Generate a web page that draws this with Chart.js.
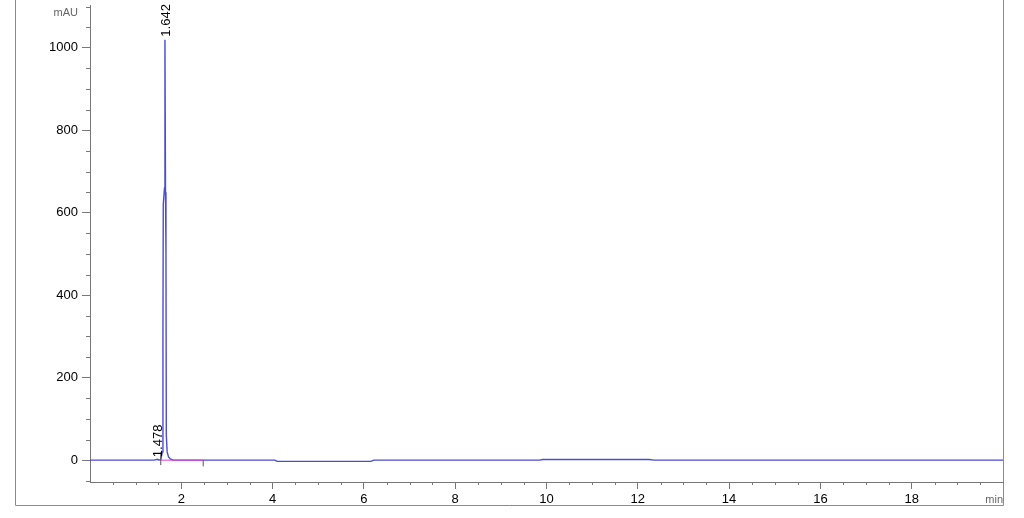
<!DOCTYPE html>
<html>
<head>
<meta charset="utf-8">
<script src="https://cdn.jsdelivr.net/npm/chart.js@4.4.0/dist/chart.umd.min.js"></script>
<style>
html,body{margin:0;padding:0;background:#fff;}
#wrap{position:absolute;left:0;top:0;width:1024px;height:518px;}
</style>
</head>
<body>
<div id="wrap"><canvas id="c" width="1024" height="518"></canvas></div>
<script>
// Chromatogram signal (time in min, absorbance in mAU)
const times = [0, 1.0, 1.40, 1.478, 1.50, 1.55, 1.585, 1.598, 1.605, 1.632, 1.642, 1.654, 1.664, 1.672, 1.69, 1.72, 1.76, 1.82, 2.5, 4.05, 4.10, 6.15, 6.22, 9.85, 9.92, 12.25, 12.35, 20];
const signal = [0, 0, 0, 2, 0.5, 1, 20, 300, 620, 660, 1020, 650, 500, 60, 20, 8, 3, 0, 0, 0, -3, -3, 0, 0, 1.5, 1.5, 0, 0];
// Integration baseline (magenta)
const baseTimes = [1.55, 2.48];
const baseValues = [0, 0];
// Peak retention time labels
const peakTimes = [1.478, 1.642];
const peakHeights = [0, 1020];
const peakLabels = ["1.478", "1.642"];
// Integration markers
const markTimes = [1.55, 2.48];
const markLow = [-12, -15];
const markHigh = [19, 0];
// Axis ticks
const xMajor = [2, 4, 6, 8, 10, 12, 14, 16, 18];
const yMajor = [0, 200, 400, 600, 800, 1000];

const lineData = times.map((t, i) => ({x: t, y: signal[i]}));
const baseData = baseTimes.map((t, i) => ({x: t, y: baseValues[i]}));
const markSets = markTimes.map((t, i) => ({
  data: [{x: t, y: markLow[i]}, {x: t, y: markHigh[i]}],
  borderColor: '#555', borderWidth: 1, pointRadius: 0, fill: false
}));

const decor = {
  id: 'decor',
  beforeDraw(chart) {
    const ctx = chart.ctx;
    ctx.save();
    ctx.strokeStyle = '#8a8a8a';
    ctx.lineWidth = 1;
    ctx.beginPath();
    ctx.moveTo(15.5, -5);
    ctx.lineTo(15.5, 505.5);
    ctx.lineTo(1003.5, 505.5);
    ctx.lineTo(1003.5, -5);
    ctx.stroke();
    ctx.restore();
  },
  afterDraw(chart) {
    const ctx = chart.ctx;
    const xs = chart.scales.x, ys = chart.scales.y;
    ctx.save();
    ctx.strokeStyle = '#777';
    ctx.lineWidth = 1;
    ctx.beginPath();
    for (let v = -50; v <= 1100; v += 50) {
      if (v % 200 === 0) continue;
      const p = Math.round(ys.getPixelForValue(v)) + 0.5;
      ctx.moveTo(xs.left - 4, p); ctx.lineTo(xs.left, p);
    }
    for (let v = 0.5; v < 20; v += 0.5) {
      if (Math.abs(v % 2) < 1e-9) continue;
      const p = Math.round(xs.getPixelForValue(v)) + 0.5;
      ctx.moveTo(p, ys.bottom); ctx.lineTo(p, ys.bottom + 3);
    }
    ctx.stroke();
    // axis units
    ctx.fillStyle = '#666';
    ctx.font = '11px "Liberation Sans", Arial, sans-serif';
    ctx.textAlign = 'right';
    ctx.textBaseline = 'alphabetic';
    ctx.fillText('mAU', 78, 16);
    ctx.fillText('min', 1003, 503);
    // peak labels
    ctx.fillStyle = '#000';
    ctx.font = '13px "Liberation Sans", Arial, sans-serif';
    ctx.textAlign = 'left';
    ctx.textBaseline = 'middle';
    peakTimes.forEach((t, i) => {
      const px = xs.getPixelForValue(t) + 1;
      const py = ys.getPixelForValue(peakHeights[i]) - 3;
      ctx.save();
      ctx.translate(px, py);
      ctx.rotate(-Math.PI / 2);
      ctx.fillText(peakLabels[i], 0, 0);
      ctx.restore();
    });
    ctx.restore();
  }
};

new Chart(document.getElementById('c'), {
  type: 'line',
  data: {
    datasets: [
      {data: baseData, borderColor: '#e040d0', borderWidth: 1, pointRadius: 0, fill: false},
      ...markSets,
      {data: lineData, borderColor: '#4b4bd2', borderWidth: 1.4, pointRadius: 0, fill: false, tension: 0}
    ]
  },
  options: {
    responsive: false,
    animation: false,
    devicePixelRatio: 1,
    layout: {padding: {left: 0, right: 21, top: 5, bottom: 0}},
    plugins: {legend: {display: false}, tooltip: {enabled: false}},
    scales: {
      x: {
        type: 'linear', min: 0, max: 20,
        afterBuildTicks: s => { s.ticks = xMajor.map(v => ({value: v})); },
        afterFit: s => { s.height = 36; s.paddingLeft = 0; s.paddingRight = 0; },
        grid: {drawOnChartArea: false, drawTicks: true, tickLength: 7, color: '#777'},
        border: {color: '#777', width: 1},
        ticks: {color: '#000', padding: 3, font: {family: '"Liberation Sans", Arial, sans-serif', size: 13}, maxRotation: 0, autoSkip: false, callback: v => String(v)}
      },
      y: {
        type: 'linear', min: -53, max: 1104,
        afterBuildTicks: s => { s.ticks = yMajor.map(v => ({value: v})); },
        afterFit: s => { s.width = 90; s.paddingTop = 0; s.paddingBottom = 0; },
        grid: {drawOnChartArea: false, drawTicks: true, tickLength: 8, color: '#777'},
        border: {color: '#777', width: 1},
        ticks: {color: '#000', padding: 4, font: {family: '"Liberation Sans", Arial, sans-serif', size: 13}, autoSkip: false, callback: v => String(v)}
      }
    }
  },
  plugins: [decor]
});
</script>
</body>
</html>
